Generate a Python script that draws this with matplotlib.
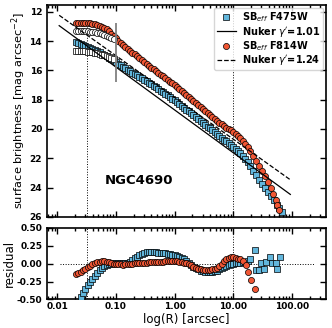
import matplotlib
matplotlib.use('Agg')
import matplotlib.pyplot as plt
import numpy as np
from matplotlib.ticker import FixedLocator, FormatStrFormatter

# surface brightness profiles (log R in arcsec, mag/arcsec^2)
logr_814 = [-1.68, -1.64, -1.60, -1.56, -1.52, -1.48, -1.44, -1.40, -1.36, -1.32,
            -1.28, -1.24, -1.20, -1.16, -1.12, -1.08, -1.04, -1.00, -0.96, -0.92,
            -0.88, -0.84, -0.80, -0.76, -0.72, -0.68, -0.64, -0.60, -0.56, -0.52,
            -0.48, -0.44, -0.40, -0.36, -0.32, -0.28, -0.24, -0.20, -0.16, -0.12,
            -0.08, -0.04, 0.00, 0.04, 0.08, 0.12, 0.16, 0.20, 0.24, 0.28,
            0.32, 0.36, 0.40, 0.44, 0.48, 0.52, 0.56, 0.60, 0.64, 0.68,
            0.72, 0.76, 0.80, 0.84, 0.88, 0.92, 0.96, 1.00, 1.04, 1.08,
            1.12, 1.16, 1.20, 1.24, 1.29, 1.34, 1.39, 1.44, 1.49, 1.54,
            1.59, 1.64, 1.68, 1.72, 1.75, 1.77]
sb_814 = [12.73, 12.74, 12.745, 12.75, 12.76, 12.77, 12.79, 12.81, 12.85, 12.89,
          12.95, 13.02, 13.10, 13.20, 13.33, 13.48, 13.64, 13.80, 13.96, 14.11,
          14.26, 14.40, 14.53, 14.66, 14.78, 14.91, 15.04, 15.17, 15.30, 15.42,
          15.55, 15.67, 15.80, 15.92, 16.04, 16.16, 16.28, 16.40, 16.52, 16.64,
          16.76, 16.88, 17.00, 17.13, 17.26, 17.39, 17.53, 17.66, 17.80, 17.93,
          18.07, 18.21, 18.34, 18.48, 18.61, 18.75, 18.89, 19.02, 19.16, 19.29,
          19.43, 19.56, 19.68, 19.79, 19.90, 20.00, 20.10, 20.20, 20.32, 20.46,
          20.62, 20.81, 21.01, 21.23, 21.52, 21.84, 22.16, 22.52, 22.88, 23.24,
          23.62, 24.04, 24.42, 24.82, 25.20, 25.55]

logr_475 = [-1.68, -1.64, -1.60, -1.56, -1.52, -1.48, -1.44, -1.40, -1.36, -1.32,
            -1.28, -1.24, -1.20, -1.16, -1.12, -1.08, -1.04, -1.00, -0.96, -0.92,
            -0.88, -0.84, -0.80, -0.76, -0.72, -0.68, -0.64, -0.60, -0.56, -0.52,
            -0.48, -0.44, -0.40, -0.36, -0.32, -0.28, -0.24, -0.20, -0.16, -0.12,
            -0.08, -0.04, 0.00, 0.04, 0.08, 0.12, 0.16, 0.20, 0.24, 0.28,
            0.32, 0.36, 0.40, 0.44, 0.48, 0.52, 0.56, 0.60, 0.64, 0.68,
            0.72, 0.76, 0.80, 0.84, 0.88, 0.92, 0.96, 1.00, 1.04, 1.08,
            1.12, 1.16, 1.20, 1.24, 1.29, 1.34, 1.39, 1.44, 1.49, 1.54,
            1.59, 1.64, 1.69, 1.74, 1.78, 1.82]
sb_475 = [14.09, 14.14, 14.19, 14.25, 14.31, 14.38, 14.45, 14.52, 14.60, 14.68,
          14.76, 14.85, 14.94, 15.03, 15.12, 15.22, 15.32, 15.43, 15.53, 15.64,
          15.74, 15.85, 15.95, 16.05, 16.14, 16.24, 16.34, 16.43, 16.53, 16.63,
          16.73, 16.83, 16.94, 17.04, 17.15, 17.26, 17.37, 17.48, 17.59, 17.71,
          17.82, 17.94, 18.05, 18.17, 18.30, 18.42, 18.55, 18.68, 18.80, 18.93,
          19.06, 19.19, 19.32, 19.44, 19.57, 19.70, 19.83, 19.96, 20.08, 20.21,
          20.34, 20.47, 20.60, 20.72, 20.85, 20.98, 21.11, 21.24, 21.38, 21.52,
          21.67, 21.84, 22.02, 22.23, 22.53, 22.85, 23.16, 23.47, 23.76, 24.03,
          24.29, 24.57, 24.87, 25.16, 25.40, 25.65]

# observed (not deconvolved) central profiles
logr_obs = [-1.68, -1.64, -1.60, -1.56, -1.52, -1.48, -1.44, -1.40, -1.36, -1.32,
            -1.28, -1.24, -1.20, -1.16, -1.12, -1.08, -1.04]
sb_obs_814 = [13.28, 13.285, 13.29, 13.30, 13.31, 13.33, 13.35, 13.37, 13.40, 13.43,
              13.47, 13.52, 13.57, 13.63, 13.70, 13.77, 13.84]
sb_obs_475 = [14.65, 14.655, 14.66, 14.67, 14.69, 14.71, 14.73, 14.76, 14.79, 14.83,
              14.87, 14.92, 14.97, 15.03, 15.10, 15.17, 15.25]

# Nuker fits
nuker_r = [0.0108, 93.0]
nuker_475 = [12.94, 24.47]
nuker_814 = [12.23, 23.47]

# residuals
res_logr_814 = [-1.68, -1.64, -1.60, -1.56, -1.52, -1.48, -1.44, -1.40, -1.36, -1.32,
                -1.28, -1.24, -1.20, -1.16, -1.12, -1.08, -1.04, -1.00, -0.96, -0.92,
                -0.88, -0.84, -0.80, -0.76, -0.72, -0.68, -0.64, -0.60, -0.56, -0.52,
                -0.48, -0.44, -0.40, -0.36, -0.32, -0.28, -0.24, -0.20, -0.16, -0.12,
                -0.08, -0.04, 0.00, 0.04, 0.08, 0.12, 0.16, 0.20, 0.24, 0.28,
                0.32, 0.36, 0.40, 0.44, 0.48, 0.52, 0.56, 0.60, 0.64, 0.68,
                0.72, 0.76, 0.80, 0.84, 0.88, 0.92, 0.96, 1.00, 1.04, 1.08,
                1.12, 1.16, 1.21, 1.25, 1.30, 1.36]
res_814 = [-0.15, -0.13, -0.11, -0.09, -0.07, -0.05, -0.03, -0.01, 0.005, 0.02,
           0.03, 0.035, 0.035, 0.028, 0.02, 0.01, 0.00, -0.005, -0.01, -0.01,
           -0.012, -0.01, -0.008, -0.005, 0.00, 0.005, 0.01, 0.013, 0.015, 0.012,
           0.015, 0.02, 0.022, 0.025, 0.028, 0.03, 0.028, 0.03, 0.035, 0.04,
           0.04, 0.04, 0.038, 0.033, 0.028, 0.022, 0.015, 0.01, -0.005, -0.025,
           -0.045, -0.06, -0.07, -0.08, -0.085, -0.09, -0.09, -0.085, -0.078, -0.07,
           -0.055, -0.03, 0.00, 0.035, 0.065, 0.085, 0.095, 0.09, 0.08, 0.07,
           0.06, 0.04, -0.02, -0.11, -0.23, -0.36]

res_logr_475 = [-1.60, -1.56, -1.52, -1.48, -1.44, -1.40, -1.36, -1.32, -1.28, -1.24,
                -1.20, -1.16, -1.12, -1.08, -1.04, -1.00, -0.96, -0.92, -0.88, -0.84,
                -0.80, -0.76, -0.72, -0.68, -0.64, -0.60, -0.56, -0.52, -0.48, -0.44,
                -0.40, -0.36, -0.32, -0.28, -0.24, -0.20, -0.16, -0.12, -0.08, -0.04,
                0.00, 0.04, 0.08, 0.12, 0.16, 0.20, 0.24, 0.28, 0.32, 0.36,
                0.40, 0.44, 0.48, 0.52, 0.56, 0.60, 0.64, 0.68, 0.72, 0.76,
                0.80, 0.84, 0.88, 0.92, 0.96, 1.00, 1.04, 1.08, 1.12, 1.16,
                1.20, 1.24, 1.28, 1.36, 1.38, 1.44, 1.47, 1.52, 1.56, 1.62,
                1.66, 1.72, 1.75, 1.80]
res_475 = [-0.46, -0.41, -0.35, -0.30, -0.25, -0.21, -0.17, -0.13, -0.09, -0.06,
           -0.035, -0.015, -0.005, 0.00, 0.003, 0.005, 0.005, 0.005, 0.005, 0.008,
           0.015, 0.03, 0.05, 0.08, 0.10, 0.12, 0.14, 0.155, 0.16, 0.16,
           0.16, 0.158, 0.157, 0.155, 0.153, 0.15, 0.145, 0.14, 0.13, 0.125,
           0.12, 0.11, 0.095, 0.08, 0.06, 0.035, 0.01, -0.02, -0.045, -0.065,
           -0.08, -0.095, -0.105, -0.11, -0.115, -0.115, -0.11, -0.105, -0.095, -0.08,
           -0.065, -0.05, -0.035, -0.02, -0.01, 0.00, 0.005, 0.01, 0.015, 0.02,
           0.028, 0.04, 0.06, 0.19, -0.09, -0.09, 0.013, -0.08, 0.03, 0.09,
           0.013, 0.005, -0.08, 0.10]

blue = '#62b6dc'
red = '#f05634'

plt.rcParams['font.family'] = 'DejaVu Sans'
fig = plt.figure(figsize=(3.32, 3.28), dpi=100)
ax1 = fig.add_axes([0.1416, 0.339, 0.8404, 0.647])
ax2 = fig.add_axes([0.1416, 0.087, 0.8404, 0.218])

ms = 4.4
ax1.plot(10**np.array(logr_475), sb_475, 's', ms=ms, mfc=blue, mec='k', mew=0.5,
         label=r'SB$_{eff}$ F475W', zorder=3)
ax1.plot(nuker_r, nuker_475, '-', color='k', lw=0.9, label=r"Nuker $\gamma'$=1.01", zorder=4)
ax1.plot(10**np.array(logr_814), sb_814, 'o', ms=ms, mfc=red, mec='k', mew=0.5,
         label=r'SB$_{eff}$ F814W', zorder=3)
ax1.plot(nuker_r, nuker_814, '--', color='k', lw=0.9, label=r"Nuker $\gamma'$=1.24", zorder=4)
ax1.plot(10**np.array(logr_obs), sb_obs_814, 'o', ms=ms, mfc='white', mec='k', mew=0.5, zorder=3)
ax1.plot(10**np.array(logr_obs), sb_obs_475, 's', ms=ms, mfc='white', mec='k', mew=0.5, zorder=3)

ax1.vlines(0.1, 12.75, 16.77, color='gray', lw=1.3, zorder=5)
ax1.vlines(0.032, 13.0, 26, color='k', lw=0.7, linestyles=':', zorder=2)
ax1.axvline(10, color='k', lw=0.7, ls=':', zorder=2)

ax1.text(0.065, 23.5, 'NGC4690', fontsize=9.5, fontweight='bold', va='center')

ax1.set_xscale('log')
ax1.set_xlim(0.0067, 377)
ax1.set_ylim(26, 11.5)
ax1.yaxis.set_major_locator(FixedLocator([12, 14, 16, 18, 20, 22, 24, 26]))
ax1.set_ylabel(r'surface brightness [mag arcsec$^{-2}$]', fontsize=8.2)
ax1.yaxis.set_label_coords(-0.068, 0.5)
ax1.tick_params(axis='x', which='both', labelbottom=False)

leg = ax1.legend(loc='upper right', prop={'weight': 'bold', 'size': 7},
                 handlelength=2.0, handletextpad=0.6, borderaxespad=0.3,
                 labelspacing=0.05, borderpad=0.3)

ax2.plot(10**np.array(res_logr_475), res_475, 's', ms=ms, mfc=blue, mec='k', mew=0.5, zorder=3)
ax2.plot(10**np.array(res_logr_814), res_814, 'o', ms=ms, mfc=red, mec='k', mew=0.5, zorder=3)
ax2.plot([0.011, 245], [0, 0], ':', color='k', lw=0.7, zorder=2)
ax2.axvline(0.032, color='k', lw=0.7, ls=':', zorder=2)
ax2.axvline(10, color='k', lw=0.7, ls=':', zorder=2)
ax2.set_xscale('log')
ax2.set_xlim(0.0067, 377)
ax2.set_ylim(-0.5, 0.5)
ax2.yaxis.set_major_locator(FixedLocator([-0.5, -0.25, 0, 0.25, 0.5]))
ax2.yaxis.set_major_formatter(FormatStrFormatter('%.2f'))
ax2.xaxis.set_major_formatter(FormatStrFormatter('%.2f'))
ax2.set_ylabel('residual', fontsize=8.5)
ax2.yaxis.set_label_coords(-0.111, 0.5)
ax2.set_xlabel('log(R) [arcsec]', fontsize=8.5, labelpad=1)

for ax in (ax1, ax2):
    ax.tick_params(which='both', direction='in', top=True, right=True, labelsize=6.5, width=1)
    ax.tick_params(which='major', length=4)
    ax.tick_params(which='minor', length=2)
    for lab in ax.get_xticklabels() + ax.get_yticklabels():
        lab.set_fontweight('bold')
    for s in ax.spines.values():
        s.set_linewidth(1.2)
ax2.tick_params(axis='x', which='major', pad=2)

fig.savefig('out.png', dpi=100)
